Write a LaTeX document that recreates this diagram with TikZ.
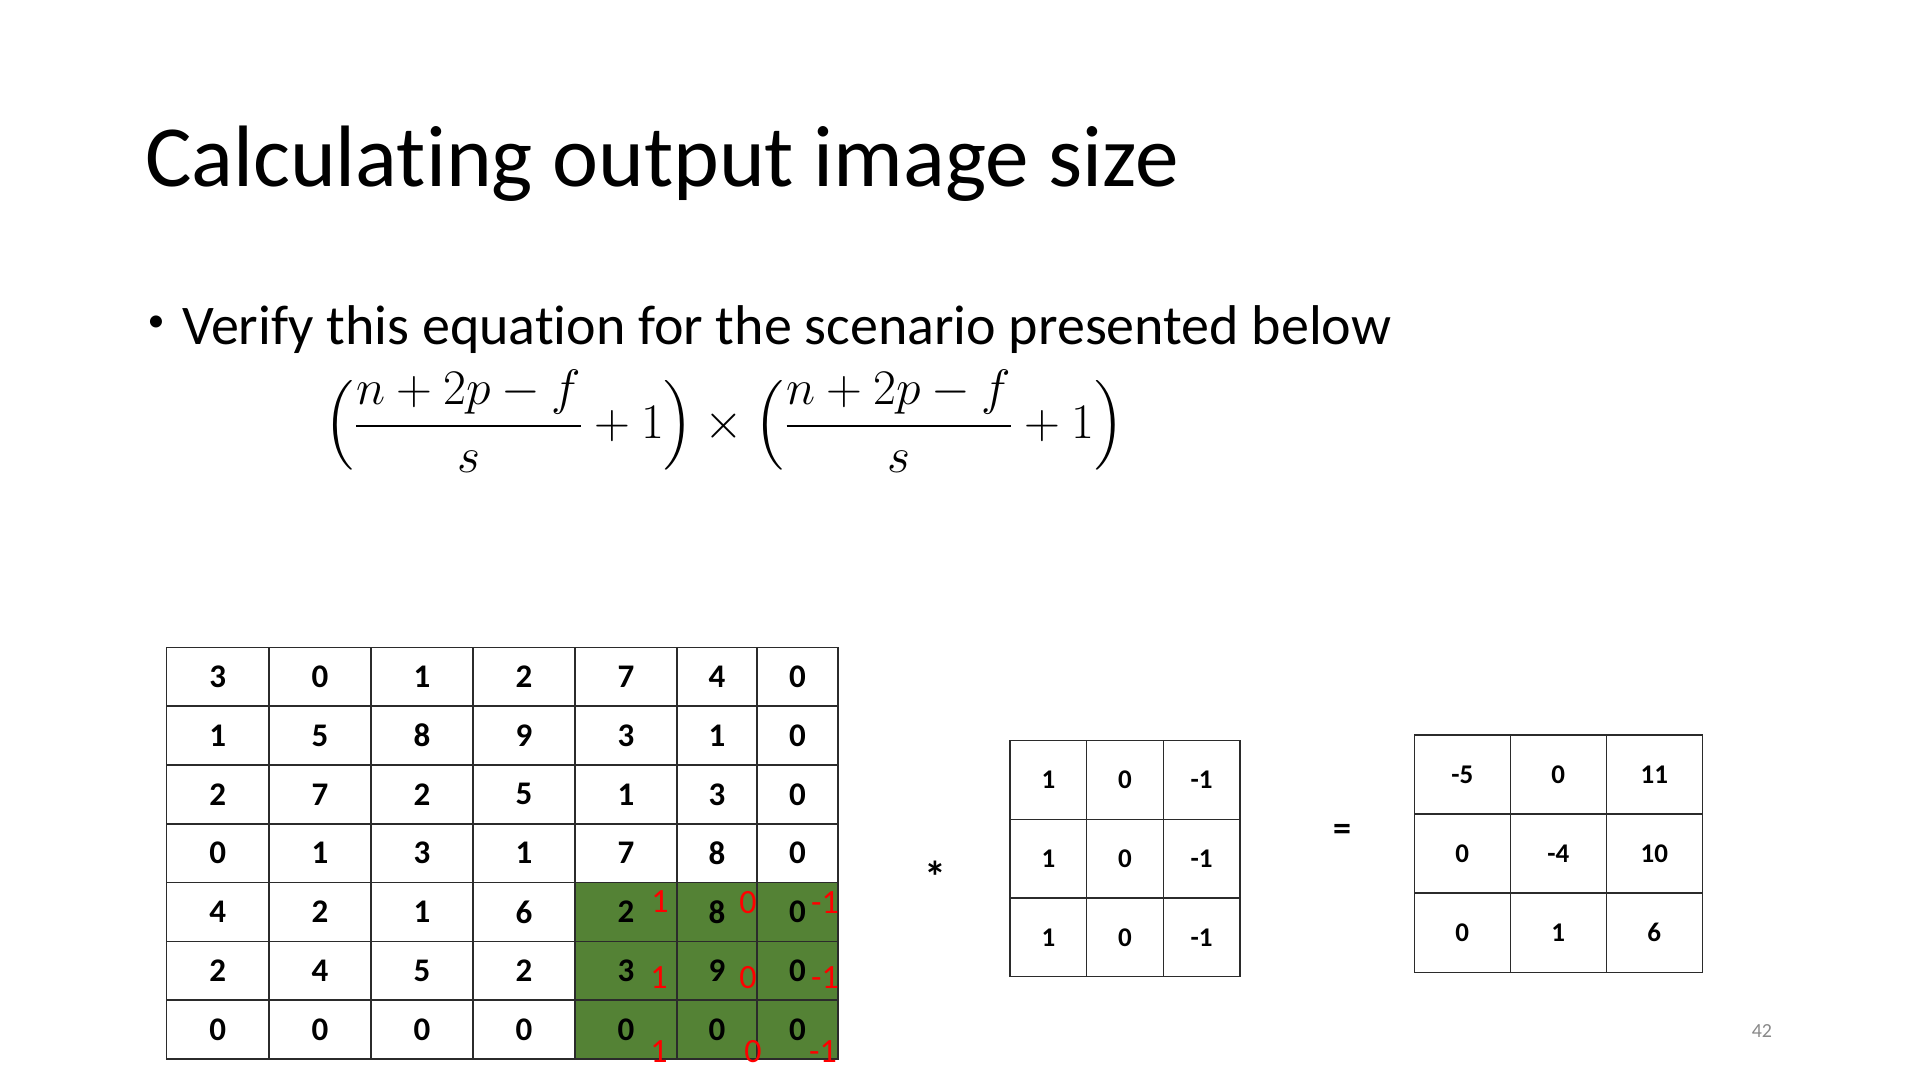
\documentclass[tikz,border=0pt]{standalone}
\usepackage{amsmath}
\usepackage{fontspec}
\setmainfont{Carlito}[Ligatures={NoCommon,NoContextual}]
\definecolor{cellgreen}{HTML}{548235}
\definecolor{pagegray}{HTML}{898989}
\definecolor{gridline}{HTML}{2B2B2B}

\begin{document}
\begin{tikzpicture}[x=0.5pt,y=-0.5pt,
  cell/.style={draw=gridline, line width=0.75pt, inner sep=0pt, outer sep=0pt,
    font=\fontsize{16.5}{16.5}\selectfont\bfseries},
  smallcell/.style={cell, font=\fontsize{13.5}{13.5}\selectfont\bfseries},
  weight/.style={text=red, inner sep=0pt, font=\fontsize{17}{17}\selectfont},
  plain/.style={inner sep=0pt, outer sep=0pt}]

% page
\fill[white] (0,0) rectangle (1920,1080);
\useasboundingbox (0,0) rectangle (1920,1080);

% heading and bullet
\node[plain, anchor=base west, font=\fontsize{43.6}{44}\selectfont] (title) at (145,187)
  {Calculating output image size};
\node[plain, anchor=base, font=\fontsize{17}{17}\selectfont] (bullet) at (156,332) {\textbullet};
\node[plain, anchor=base west, font=\fontsize{28}{28}\selectfont] (claim) at (182,344)
  {Verify this equation for the scenario presented below};
\newcommand\sizeratio{\frac{\medmuskip=2mu n+2p-f}{s}}
\node[plain] (formula) at (724,421) {\fontsize{27.5}{32}\selectfont
  $\displaystyle \Bigl(\sizeratio+1\Bigr)\times\Bigl(\sizeratio+1\Bigr)$};

% padded input image, 7 x 7, with the 3 x 3 window in the lower right corner
\def\bigcols{{166.5,269,371,473,575,677,757,838}}
\foreach \r/\vals in {1/{3,0,1,2,7,4,0},2/{1,5,8,9,3,1,0},3/{2,7,2,5,1,3,0},
                      4/{0,1,3,1,7,8,0},5/{4,2,1,6,2,8,0},6/{2,4,5,2,3,9,0},
                      7/{0,0,0,0,0,0,0}}{
  \foreach \v [count=\c] in \vals {
    \pgfmathsetmacro\xl{\bigcols[\c-1]}
    \pgfmathsetmacro\xr{\bigcols[\c]}
    \pgfmathsetmacro\xm{(\xl+\xr)/2}
    \pgfmathsetmacro\ym{647.4+58.8*(\r-0.5)}
    \pgfmathsetmacro\w{(\xr-\xl)/2}
    \pgfmathtruncatemacro\hl{and(\r>4,\c>4)}
    \ifnum\hl=1 \def\cellfill{cellgreen}\else\def\cellfill{none}\fi
    \node[cell, fill=\cellfill, minimum width=\w pt, minimum height=29.4pt]
      (in-\r-\c) at (\xm,\ym) {\v};
  }
}

% filter weights written over the window
\node[weight] (w-1-1) at (660,902) {1};
\node[weight] (w-1-2) at (748,903) {0};
\node[weight] (w-1-3) at (825,903) {-1};
\node[weight] (w-2-1) at (659,978) {1};
\node[weight] (w-2-2) at (748,978) {0};
\node[weight] (w-2-3) at (825,978) {-1};
\node[weight] (w-3-1) at (659,1052) {1};
\node[weight] (w-3-2) at (753,1052) {0};
\node[weight] (w-3-3) at (823,1052) {-1};

% convolution sign
\node[plain, anchor=base, font=\fontsize{22}{22}\selectfont\bfseries] (conv) at (935,892.5) {*};

% 3 x 3 filter
\foreach \r in {1,2,3}{
  \foreach \v [count=\c] in {1,0,-1}{
    \node[smallcell, minimum width=38.33pt, minimum height=39.33pt]
      (k-\r-\c) at ({1010+76.67*(\c-0.5)},{740.7+78.67*(\r-0.5)}) {\v};
  }
}

% equals sign
\node[plain, anchor=base, font=\fontsize{18}{18}\selectfont\bfseries] (equals) at (1342,840) {=};

% 3 x 3 result
\foreach \r/\vals in {1/{-5,0,11},2/{0,-4,10},3/{0,1,6}}{
  \foreach \v [count=\c] in \vals {
    \node[smallcell, minimum width=48pt, minimum height=39.55pt]
      (out-\r-\c) at ({1414.3+96*(\c-0.5)},{735+79.1*(\r-0.5)}) {\v};
  }
}

% slide number
\node[plain, anchor=base east, text=pagegray, font=\fontsize{10}{10}\selectfont] (pageno) at (1772,1037.5) {42};

\end{tikzpicture}
\end{document}
